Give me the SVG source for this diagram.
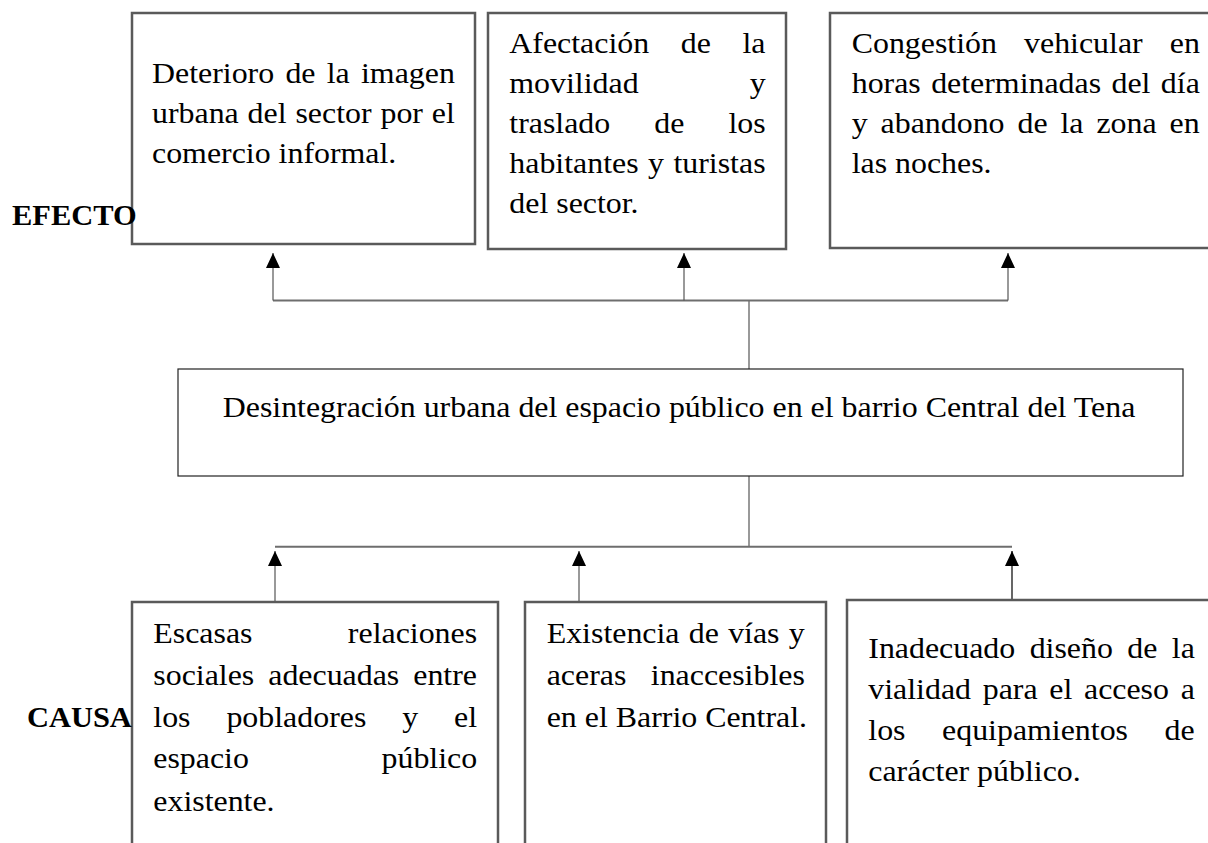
<svg xmlns="http://www.w3.org/2000/svg" width="1208" height="843" viewBox="0 0 1208 843">
<style>
.box{fill:#fff;stroke:#5a5a5a;stroke-width:2.5}
.mid{fill:#fff;stroke:#222;stroke-width:1.2}
.t{font-family:"Liberation Serif","Times New Roman",serif;font-size:29px;fill:#000}
.b{font-family:"Liberation Serif","Times New Roman",serif;font-size:29px;font-weight:bold;fill:#000}
.h{stroke:#6e6e6e;stroke-width:2;fill:none}
.v{stroke:#555;stroke-width:1.2;fill:none}
</style>
<defs>
<marker id="arr" markerUnits="userSpaceOnUse" markerWidth="16" markerHeight="16" refX="15" refY="7" orient="auto">
<path d="M0,0 L15,7 L0,14 z" fill="#000"/>
</marker>
</defs>
<rect width="1208" height="843" fill="#fff"/>

<g id="connectors">
<line class="v" x1="749" y1="369" x2="749" y2="300.5"/>
<line class="h" x1="273" y1="300.5" x2="1008" y2="300.5"/>
<line class="v" x1="273" y1="300.5" x2="273" y2="253" marker-end="url(#arr)"/>
<line class="v" x1="684" y1="300.5" x2="684" y2="253" marker-end="url(#arr)"/>
<line class="v" x1="1008" y1="300.5" x2="1008" y2="253" marker-end="url(#arr)"/>
<line class="v" x1="749" y1="476" x2="749" y2="546.7"/>
<line class="h" x1="275" y1="546.7" x2="1012" y2="546.7"/>
<line class="v" x1="275" y1="601" x2="275" y2="551" marker-end="url(#arr)"/>
<line class="v" x1="579" y1="601" x2="579" y2="551" marker-end="url(#arr)"/>
<line class="v" style="stroke:#000" x1="1012" y1="600" x2="1012" y2="551" marker-end="url(#arr)"/>
</g>

<g id="efecto1">
<rect class="box" x="132" y="13" width="343" height="231"/>
<text class="t" transform="translate(152,82.7) scale(1.1,1)" word-spacing="2.97">Deterioro de la imagen</text>
<text class="t" transform="translate(152,122.7) scale(1.1,1)" word-spacing="0.82">urbana del sector por el</text>
<text class="t" transform="translate(152,163) scale(1.1,1)">comercio informal.</text>
</g>

<g id="efecto2">
<rect class="box" x="488" y="13" width="298" height="236"/>
<text class="t" transform="translate(509.3,52.7) scale(1.1,1)" word-spacing="21.5">Afectación de la</text>
<text class="t" transform="translate(509.3,93) scale(1.1,1)" word-spacing="93.7">movilidad y</text>
<text class="t" transform="translate(509.3,133) scale(1.1,1)" word-spacing="32.8">traslado de los</text>
<text class="t" transform="translate(509.3,173) scale(1.1,1)" word-spacing="1.36">habitantes y turistas</text>
<text class="t" transform="translate(509.3,213) scale(1.1,1)">del sector.</text>
</g>

<g id="efecto3">
<rect class="box" x="830" y="13" width="390" height="235"/>
<text class="t" transform="translate(851.7,52.7) scale(1.1,1)" word-spacing="17.4">Congestión vehicular en</text>
<text class="t" transform="translate(851.7,93) scale(1.1,1)" word-spacing="2.2">horas determinadas del día</text>
<text class="t" transform="translate(851.7,133) scale(1.1,1)" word-spacing="4.5">y abandono de la zona en</text>
<text class="t" transform="translate(851.7,173) scale(1.1,1)">las noches.</text>
</g>

<g id="problema">
<rect class="mid" x="178" y="369" width="1005" height="107"/>
<text class="t" text-anchor="middle" transform="translate(679,416.7) scale(1.1,1)">Desintegración urbana del espacio público en el barrio Central del Tena</text>
</g>

<g id="causa1">
<rect class="box" x="132" y="602" width="366" height="260"/>
<text class="t" transform="translate(153.3,642.7) scale(1.1,1)" word-spacing="79.5">Escasas relaciones</text>
<text class="t" transform="translate(153.3,685) scale(1.1,1)" word-spacing="5.5">sociales adecuadas entre</text>
<text class="t" transform="translate(153.3,726.7) scale(1.1,1)" word-spacing="25.4">los pobladores y el</text>
<text class="t" transform="translate(153.3,768.3) scale(1.1,1)" word-spacing="113.3">espacio público</text>
<text class="t" transform="translate(153.3,810.7) scale(1.1,1)">existente.</text>
</g>

<g id="causa2">
<rect class="box" x="525" y="602" width="301" height="260"/>
<text class="t" transform="translate(546.7,642.7) scale(1.1,1)" word-spacing="1.2">Existencia de vías y</text>
<text class="t" transform="translate(546.7,685) scale(1.1,1)" word-spacing="15">aceras inaccesibles</text>
<text class="t" transform="translate(546.7,726.7) scale(1.1,1)">en el Barrio Central.</text>
</g>

<g id="causa3">
<rect class="box" x="847" y="600" width="380" height="262"/>
<text class="t" transform="translate(868.3,657.5) scale(1.1,1)" word-spacing="5.85">Inadecuado diseño de la</text>
<text class="t" transform="translate(868.3,698.5) scale(1.1,1)" word-spacing="3.4">vialidad para el acceso a</text>
<text class="t" transform="translate(868.3,739.5) scale(1.1,1)" word-spacing="26">los equipamientos de</text>
<text class="t" transform="translate(868.3,780.5) scale(1.1,1)">carácter público.</text>
</g>

<g id="label-efecto"><text class="b" transform="translate(12,225) scale(1.05,1)">EFECTO</text></g>
<g id="label-causa"><text class="b" transform="translate(27,727) scale(1.05,1)">CAUSA</text></g>
</svg>
